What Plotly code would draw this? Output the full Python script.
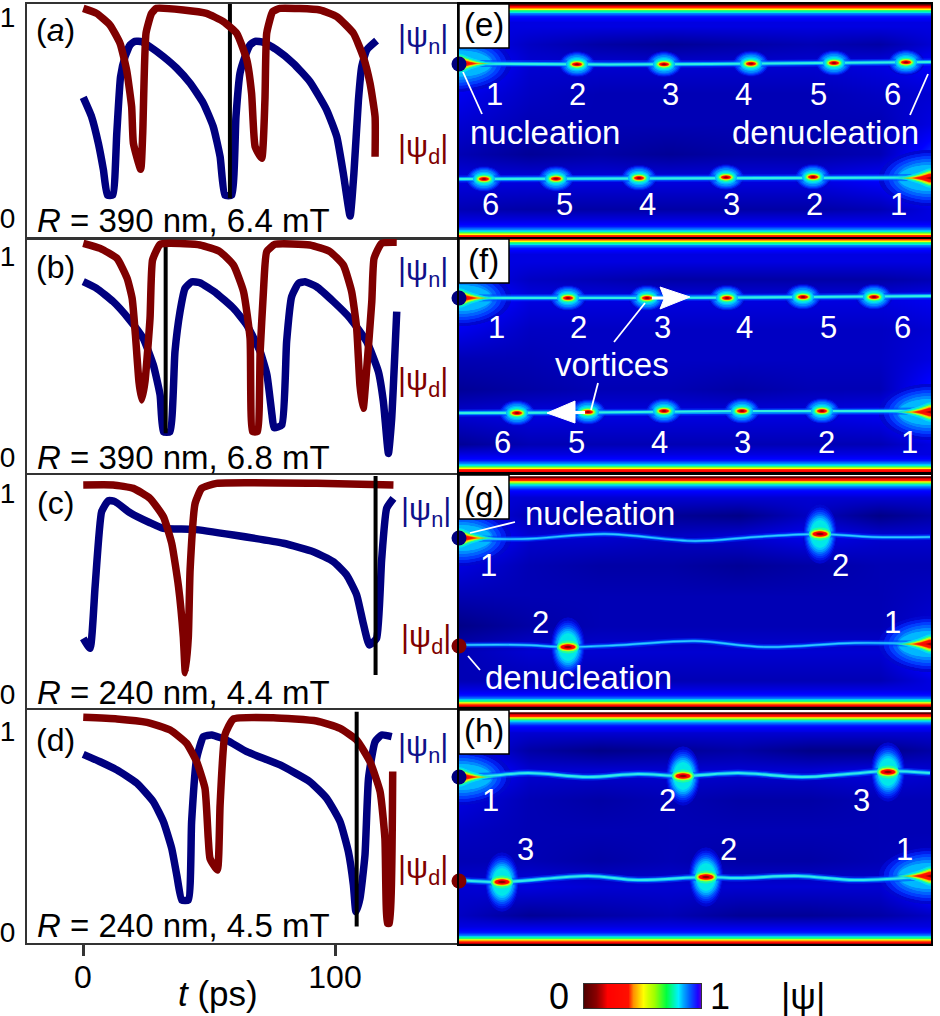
import math
import plotly.graph_objects as go

W, H = 940, 1016
FONT = "Liberation Sans"
NAVY = "#00007f"
MAROON = "#7f0000"

# ---------- left panels: time (ps) and order parameter ----------
a_n_t = [0.1,3.4,6.1,8.1,9.7,11.8,13.4,14.9,16.7,18.7,20.6,23.3,26.6,31.9,37.2,42.5,47.8,51.7,54.4,56.3,59.0,60.7,62.3,64.3,66.3,68.3,71.6,76.9,83.5,90.1,96.7,100.7,103.3,106,107.5,109.3,110.6,112.6,116.5]
a_n_v = [.60,.504,.371,.239,.114,.114,.421,.703,.803,.861,.879,.877,.852,.803,.745,.670,.570,.454,.305,.114,.114,.504,.720,.803,.861,.879,.874,.836,.769,.678,.537,.405,.222,.01,.222,.587,.753,.836,.882]
a_d_t = [0.1,5.4,10.7,14.7,17.3,19.3,20,22.9,23.7,25,27.2,29.2,39.8,49,55.7,61,65,66.9,68.3,70.9,72.2,72.9,75.3,78.2,94,100.7,107.3,111.2,113.9,115.9,115.9]
a_d_v = [1.043,1.018,.96,.869,.736,.554,.371,.242,.421,.919,1.018,1.043,1.035,1.018,.977,.919,.786,.620,.355,.297,.587,.919,1.027,1.043,1.035,1.002,.919,.803,.670,.504,.305]
a_mark_t = [58.3,58.3]
a_mark_v = [1.065,.098]

b_n_t = [0.1,5.4,12,18,23.9,27.9,30.6,31.9,34.5,36.5,38.5,40.5,43.2,46.4,53,59.7,65,70.3,73,75,75.8,78.9,80.8,82.8,85.5,88.1,92.7,99.4,106,112.6,117.2,119.2,121.2,122.5,124.5]
b_n_v = [.872,.839,.773,.69,.59,.458,.308,.126,.126,.524,.723,.839,.872,.867,.814,.74,.657,.524,.408,.209,.146,.159,.574,.798,.864,.872,.847,.773,.69,.574,.425,.275,.018,.192,.723]
b_d_t = [0.1,6.8,13.5,17.5,19.5,20.8,22.2,23.3,24.6,26.6,27.6,30.6,34.5,46.4,54.3,59.7,63.7,66.3,67.3,69.2,70.3,71.6,72.9,76.2,90,98,103.3,106.6,108.6,109.9,111.2,112.6,114.6,115.5,118.5,124.5]
b_d_v = [1.063,1.038,.988,.889,.789,.607,.375,.284,.375,.69,.98,1.058,1.063,1.055,1.022,.955,.823,.59,.126,.126,.524,.823,1.022,1.058,1.055,1.022,.955,.823,.64,.358,.242,.441,.773,.988,1.063,1.068]
b_mark_t = [32.8,32.8]
b_mark_v = [1.08,.118]

c_n_t = [0.1,2.8,4.8,7.4,10.1,12.7,18.7,26.6,31.9,43.8,59.7,79.5,91.4,99.4,104.6,108.6,111.2,113.6,116.5,118.5,120.5,123.2]
c_n_v = [.277,.227,.534,.907,.962,.957,.902,.852,.824,.819,.791,.75,.708,.658,.592,.493,.352,.244,.277,.667,.924,.973]
c_d_t = [0.1,12,20,26.6,31.9,35.2,37.9,39.8,40.6,41.8,42.5,44.5,47.1,53,92.7,123.2]
c_d_v = [1.04,1.04,1.023,.973,.882,.75,.534,.285,.106,.285,.617,.949,1.023,1.048,1.048,1.04]
c_mark_t = [116.1,116.1]
c_mark_v = [1.085,.095]

d_n_t = [0.1,6.8,13.5,21.4,27.9,31.9,35.2,37.2,39.2,41.8,43.1,45.1,47.8,51.1,57,65,78.2,90,96.7,102,105.3,107.3,108.3,109.9,111.9,113.3,115.9,118.5,122.5]
d_n_v = [.884,.847,.806,.74,.648,.549,.416,.284,.159,.159,.549,.864,.972,.98,.955,.897,.831,.748,.665,.549,.4,.234,.101,.167,.383,.765,.947,.98,.972]
d_d_t = [0.1,13.5,25.4,34.6,41.1,45.1,48.4,49.7,50.4,53.3,54.4,56.3,59.7,75.5,92.7,102,108.6,113.9,117.9,119.8,120.8,121.6,122.9]
d_d_v = [1.068,1.06,1.043,1.005,.939,.847,.715,.466,.366,.308,.632,.98,1.06,1.066,1.05,1.013,.955,.847,.698,.466,.043,.043,.798]
d_mark_t = [108.6,108.6]
d_mark_v = [1.096,.027]

left_titles = ["R = 390 nm, 6.4 mT", "R = 390 nm, 6.8 mT", "R = 240 nm, 4.4 mT", "R = 240 nm, 4.5 mT"]
left_tags = ["(<i>a</i>)", "(b)", "(c)", "(d)"]
time_ticks = [0, 100]
order_ticks = [0, 1]

# ---------- right panels: positions along the strip ----------
e_up_x = [0,150,250,472]; e_up_y = [59.5,60.5,60,58]
e_lo_x = [0,150,300,472]; e_lo_y = [175,174.5,173.5,173.5]
e_vu_x = [118,205,292,375,447]; e_vu_y = [60.3,60.3,59.7,59,58.3]
e_vl_x = [25,97,180,267,354]; e_vl_y = [175,174.7,174,173.3,173]

f_up_x = [0,200,350,472]; f_up_y = [59,59,58,57]
f_lo_x = [0,130,280,472]; f_lo_y = [174,173.5,172,172]
f_vu_x = [109,188,268,344,415]; f_vu_y = [59,59,59,58,58]
f_vl_x = [58,129,205,283,363]; f_vl_y = [174,173,172,172,172]

g_up_x = [1,63,146,236,296,361,413,471]; g_up_y = [63,64,59,66,62,59,62,62]
g_lo_x = [1,63,109,163,236,306,396,471]; g_lo_y = [170,170,172,170,166,172,168,169]
g_vu_x = [361]; g_vu_y = [59]
g_vl_x = [109]; g_vl_y = [172]

h_up_x = [1,29,69,129,179,224,279,343,389,429,471]; h_up_y = [67,66,63,67,64,66,63,67,64,61,63]
h_lo_x = [1,43,129,179,246,279,339,396,471]; h_lo_y = [170,172,166,170,167,168,166,170,166]
h_vu_x = [224,429]; h_vu_y = [66,62]
h_vl_x = [43,247]; h_vl_y = [172,167]

# background |psi| read on a coarse grid
grid_x = [0,70,140,210,280,350,420,472]
grid_y = [22,40,60,90,120,150,176,205]
e_grid = [
 [.92,.92,.92,.92,.92,.92,.92,.92],
 [.90,.94,.96,.97,.96,.95,.96,.93],
 [.87,.93,.93,.93,.93,.93,.92,.90],
 [.91,.94,.95,.95,.95,.95,.94,.93],
 [.93,.95,.95,.95,.95,.95,.95,.92],
 [.95,.97,.96,.97,.96,.96,.95,.88],
 [.92,.92,.92,.92,.92,.92,.90,.85],
 [.95,.96,.96,.96,.96,.96,.95,.92]]
f_grid = [
 [.92,.92,.92,.92,.92,.92,.92,.92],
 [.90,.94,.95,.96,.96,.96,.96,.95],
 [.87,.92,.92,.92,.92,.92,.92,.91],
 [.91,.94,.94,.94,.94,.94,.94,.93],
 [.95,.95,.94,.94,.94,.94,.94,.92],
 [.97,.96,.95,.95,.96,.95,.95,.89],
 [.93,.92,.92,.92,.92,.92,.91,.85],
 [.97,.95,.95,.95,.95,.95,.95,.92]]
g_grid = [
 [.92,.93,.93,.93,.93,.93,.93,.93],
 [.90,.95,.96,.97,.98,.94,.98,.96],
 [.87,.93,.93,.94,.93,.91,.93,.93],
 [.92,.95,.96,.96,.97,.96,.95,.95],
 [.95,.95,.95,.95,.95,.95,.95,.94],
 [.98,.96,.95,.95,.95,.95,.95,.93],
 [.95,.93,.93,.93,.93,.93,.93,.87],
 [.95,.95,.95,.95,.95,.95,.95,.92]]
h_grid = [
 [.92,.93,.93,.93,.93,.93,.93,.93],
 [.90,.96,.98,.97,.96,.98,.98,.96],
 [.87,.93,.93,.93,.93,.93,.92,.93],
 [.92,.95,.96,.95,.96,.96,.95,.95],
 [.94,.95,.95,.95,.95,.95,.95,.95],
 [.95,.95,.96,.95,.96,.96,.95,.94],
 [.93,.92,.93,.93,.93,.93,.93,.87],
 [.94,.97,.96,.95,.97,.97,.96,.94]]
band_depth = [0,1.5,3,4.5,6,7.5,9,12,18]
band_level = [.05,.22,.37,.5,.66,.76,.84,.89,.92]

bar_levels = [0,.05,.1,.15,.2,.25,.3,.35,.38,.42,.46,.5,.55,.6,.65,.7,.75,.8,.85,.9,.95,1]

# ---------- styles ----------
field_scale = [[0,"#300000"],[.12,"#900000"],[.22,"#ff0000"],[.36,"#ff2000"],[.43,"#ff9000"],[.5,"#ffff00"],
               [.62,"#60ff40"],[.7,"#00ff90"],[.78,"#00e0ff"],[.85,"#0070ff"],[.9,"#0000ff"],[1,"#00006a"]]
bar_scale = [[0,"#500000"],[.1,"#8b0000"],[.2,"#ff0000"],[.38,"#ff1000"],[.42,"#ff9000"],[.5,"#ffff00"],
             [.6,"#a0ff00"],[.7,"#00ff40"],[.8,"#00f0ff"],[.9,"#0060ff"],[.97,"#2000ff"],[1,"#6000d0"]]

left_box = [(4,238,218),(239,473,457),(475,708,694),(710,943,932)]
right_box = [(4,238),(239,472),(475,707),(710,944)]
PX_UNIT = 201.0
XL, XR = 27, 458
RL, RR = 459, 931
T0PX, TPS = 83.0, 2.52

def dom_x(a, b): return [a / W, b / W]
def dom_y(t, b): return [1 - b / H, 1 - t / H]

fig = go.Figure()
layout = {}
annots = []
shapes = []

def note(px, py, text, size=30, color="black"):
    annots.append(dict(x=px / W, y=1 - py / H, xref="paper", yref="paper", text=text, showarrow=False,
                       xanchor="center", yanchor="middle", font=dict(family=FONT, size=size, color=color)))

left_series = [(a_n_t,a_n_v,a_d_t,a_d_v,a_mark_t,a_mark_v),(b_n_t,b_n_v,b_d_t,b_d_v,b_mark_t,b_mark_v),
               (c_n_t,c_n_v,c_d_t,c_d_v,c_mark_t,c_mark_v),(d_n_t,d_n_v,d_d_t,d_d_v,d_mark_t,d_mark_v)]
mark_first = [True, True, False, False]
for i, (nt, nv, dt, dv, mt, mv) in enumerate(left_series):
    ax = i + 1
    t, b, zero = left_box[i]
    xa = dict(domain=dom_x(XL, XR), range=[(XL - T0PX) / TPS, (XR - T0PX) / TPS], showgrid=False, zeroline=False,
              showline=True, mirror=True, linecolor="#333", linewidth=2, anchor=f"y{ax}", fixedrange=True, automargin=False)
    if i == 3:
        xa.update(tickvals=time_ticks, ticks="outside", ticklen=11, tickwidth=3, tickcolor="#333", ticklabelstandoff=-6,
                  tickfont=dict(family=FONT, size=32, color="black"))
    else:
        xa.update(showticklabels=False, ticks="")
    ya = dict(domain=dom_y(t, b), range=[(zero - b) / PX_UNIT, (zero - t) / PX_UNIT], showgrid=False, zeroline=False,
              showline=True, mirror=True, linecolor="#333", linewidth=2, anchor=f"x{ax}", fixedrange=True, automargin=False,
              tickvals=order_ticks, ticks="outside", ticklen=4, tickcolor="rgba(0,0,0,0)",
              tickfont=dict(family=FONT, size=28, color="black"))
    layout[f"xaxis{ax}"] = xa
    layout[f"yaxis{ax}"] = ya
    xr, yr = f"x{ax}", f"y{ax}"
    curve = dict(width=7.5, shape="spline", smoothing=0.45)
    blue = go.Scatter(x=nt, y=nv, mode="lines", line=dict(color="#00007f", **curve), xaxis=xr, yaxis=yr, hoverinfo="skip")
    red = go.Scatter(x=dt, y=dv, mode="lines", line=dict(color="#7f0000", **curve), xaxis=xr, yaxis=yr, hoverinfo="skip")
    blk = go.Scatter(x=mt, y=mv, mode="lines", line=dict(color="black", width=4), xaxis=xr, yaxis=yr, hoverinfo="skip")
    fig.add_traces([blue, blk, red] if mark_first[i] else [blue, red, blk])

note(218, 993, "<i>t</i> (ps)", size=35)
for txt, y in zip(left_titles, [220, 457, 692, 925]):
    note(183, y, "<i>R</i>" + txt[1:], size=33)
for txt, y in zip(left_tags, [30, 267, 503, 740]):
    note(55, y, txt, size=32)
for x, y in [(423, 39), (423, 272), (426, 512), (423, 748)]:
    note(x, y, "|\u03c8<sub>n</sub>|", size=31, color="#10108a")
for x, y in [(423, 149), (423, 382), (426, 639), (423, 870)]:
    note(x, y, "|\u03c8<sub>d</sub>|", size=31, color=MAROON)

# ---- glow drawing helpers: a chain of opaque discs forms a smooth ellipse or wedge ----
def ellipse(cx, cy, rx, ry, color, xr, yr, pointy=False, sign=0):
    xs, ys, ss = [], [], []
    for c_x, c_y in zip(cx, cy):
        if rx >= ry:
            n = int(rx)
            steps = range(0, n + 1) if sign else range(-n, n + 1)
            for d in steps:
                f = abs(d) / rx
                r = ry * ((1 - f) ** 1.8 if pointy else math.sqrt(max(0, 1 - f * f)))
                xs.append(c_x + (sign if sign else 1) * d); ys.append(c_y); ss.append(max(0.6, 2 * r))
        else:
            n = int(ry)
            for d in range(-n, n + 1):
                f = abs(d) / ry
                r = rx * math.sqrt(max(0, 1 - f * f))
                xs.append(c_x); ys.append(c_y + d); ss.append(max(0.6, 2 * r))
    fig.add_trace(go.Scatter(x=xs, y=ys, mode="markers", marker=dict(size=ss, color=color, line=dict(width=0)),
                             xaxis=xr, yaxis=yr, hoverinfo="skip"))

small_halo = [(13,13,"#0008d0"),(12,12,"#0020ee"),(11,11,"#0040ff"),(10,10,"#0064ff"),(9,9,"#008cff")]
small_core = [(8.2,7.2,"#00b8ff"),(7.6,6,"#00e0f0"),(7.2,4.4,"#20ffa0"),(6.2,3.2,"#b0ff20"),(5.2,2.4,"#ffd000"),
              (4.8,2,"#ff6000"),(4.4,1.7,"#ff0000"),(2.5,1,"#800000")]
big_halo = [(17,24,"#0008d0"),(16,21,"#0018e8"),(15,19,"#0030f8"),(14,17,"#0050ff"),(13,15,"#0078ff"),(12,13.5,"#00a0ff")]
big_core = [(10.5,12,"#00c8ff"),(9.5,10,"#00e8e8"),(9,6.5,"#20ffa0"),(8.5,4.4,"#b0ff20"),(7.5,3.3,"#ffd000"),(7.2,2.8,"#ff6000"),
            (7,2.4,"#ff0000"),(4,1.2,"#800000")]
blob_soft = [(44,28,"#0008d0"),(40,25,"#0020ee"),(36,22,"#0040ff"),(33,19,"#0064ff"),(30,16,"#008cff"),(30,13,"#00b8ff")]
blob_sharp = [(42,10,"#00e0f0"),(36,8.5,"#20ffa0"),(32,7,"#b0ff20"),(28,5.6,"#ffd000"),(26,4.8,"#ff6000"),(24,4,"#ff1000"),(10,1.6,"#a00000")]

right_series = [
    (e_grid, e_up_x, e_up_y, e_lo_x, e_lo_y, e_vu_x, e_vu_y, e_vl_x, e_vl_y, "(e)", 0, False),
    (f_grid, f_up_x, f_up_y, f_lo_x, f_lo_y, f_vu_x, f_vu_y, f_vl_x, f_vl_y, "(f)", -3, False),
    (g_grid, g_up_x, g_up_y, g_lo_x, g_lo_y, g_vu_x, g_vu_y, g_vl_x, g_vl_y, "(g)", 2, True),
    (h_grid, h_up_x, h_up_y, h_lo_x, h_lo_y, h_vu_x, h_vu_y, h_vl_x, h_vl_y, "(h)", 3, True),
]
bright = [[(7, "#0040ff", .55), (4, "#00a0ff", .9), (2.2, "#30f0e0", 1)]] * 2 + \
         [[(6, "#0030ff", .5), (3, "#0090ff", .85), (1.4, "#30c8ff", 1)],
          [(7, "#0040ff", .55), (4, "#00a0ff", .9), (2.2, "#30e8e8", 1)]]
tag_y = [25, 260, 498, 730]
dot_panel = [0, 0, 1, 1, 2, 2, 3, 3]
dot_x = [0, 473, 0, 473, 0, 0, 0, 0]
dot_y = [60, 60, 59, 59, 63, 171, 67, 171]
dot_col = [NAVY, MAROON, NAVY, MAROON, NAVY, MAROON, NAVY, MAROON]
blob_up_y = [59.5, 59, 63, 67]
blob_lo_y = [174, 173, 169, 166]

for i, (grid, ux, uy, lx, ly, vux, vuy, vlx, vly, tag, shift, big) in enumerate(right_series):
    ax = i + 5
    t, b = right_box[i]
    hgt = b - t
    xr, yr = f"x{ax}", f"y{ax}"
    common = dict(showgrid=False, zeroline=False, showticklabels=False, ticks="", showline=True, mirror=True,
                  linecolor="black", linewidth=2, fixedrange=True, automargin=False)
    layout[f"xaxis{ax}"] = dict(domain=dom_x(RL, RR), range=[0, RR - RL], anchor=yr, **common)
    layout[f"yaxis{ax}"] = dict(domain=dom_y(t, b), range=[hgt, 0], anchor=xr, **common)
    ys, zs = [], []
    for d, lv in zip(band_depth, band_level):
        ys.append(d + shift); zs.append([lv] * len(grid_x))
    for y, row in zip(grid_y, grid):
        if y > ys[-1]:
            ys.append(y); zs.append(row)
    for d, lv in zip(reversed(band_depth), reversed(band_level)):
        ys.append(hgt - d); zs.append([lv] * len(grid_x))
    fig.add_trace(go.Heatmap(x=grid_x, y=ys, z=zs, colorscale=field_scale, zmin=0, zmax=1, showscale=False,
                             zsmooth="best", xaxis=xr, yaxis=yr, hoverinfo="skip"))
    halo, core = (big_halo, big_core) if big else (small_halo, small_core)
    vx, vy = vux + vlx, vuy + vly
    for rx, ry, c in halo:
        ellipse(vx, vy, rx, ry, c, xr, yr)
    for rx, ry, c in blob_soft:
        ellipse([0], [blob_up_y[i]], rx, ry, c, xr, yr, sign=1)
        ellipse([RR - RL], [blob_lo_y[i]], rx, ry, c, xr, yr, sign=-1)
    shape = "spline" if big else "linear"
    for lx_, ly_ in [(ux, uy), (lx, ly)]:
        for wd, c, o in bright[i]:
            fig.add_trace(go.Scatter(x=lx_, y=ly_, mode="lines", line=dict(color=c, width=wd, shape=shape), opacity=o,
                                     xaxis=xr, yaxis=yr, hoverinfo="skip"))
    for rx, ry, c in core:
        ellipse(vx, vy, rx, ry, c, xr, yr)
    for rx, ry, c in blob_sharp:
        ellipse([0], [blob_up_y[i]], rx, ry, c, xr, yr, pointy=True, sign=1)
        ellipse([RR - RL], [blob_lo_y[i]], rx, ry, c, xr, yr, pointy=True, sign=-1)
    shapes.append(dict(type="rect", xref=xr, yref=yr, x0=0, x1=50, y0=0, y1=44, fillcolor="white",
                       line=dict(color="black", width=1.5), layer="above"))
    note(484, tag_y[i], tag, size=33)

# leader lines and arrows (panel coordinates)
leader_x = {5: [[4, 23], [469, 451]], 6: [[186, 155], [139, 132]], 7: [[11, 56], [9, 21]], 8: []}
leader_y = {5: [[68, 110], [70, 111]], 6: [[64, 103], [144, 171]], 7: [[58, 47], [181, 195]], 8: []}
for ax in leader_x:
    for lx_, ly_ in zip(leader_x[ax], leader_y[ax]):
        fig.add_trace(go.Scatter(x=lx_, y=ly_, mode="lines", line=dict(color="white", width=1.8),
                                 xaxis=f"x{ax}", yaxis=f"y{ax}", hoverinfo="skip"))

arrow_r_x = [193, 205, 201, 231, 201, 205, 193]
arrow_r_y = [58, 58, 48, 58, 70, 60, 60]
arrow_l_x = [126, 116, 116, 88, 116, 116, 126]
arrow_l_y = [172.5, 172.5, 162, 174, 184, 174.5, 174.5]
for ax_, ay_ in [(arrow_r_x, arrow_r_y), (arrow_l_x, arrow_l_y)]:
    fig.add_trace(go.Scatter(x=ax_, y=ay_, mode="lines", fill="toself", fillcolor="white", line=dict(color="white", width=1),
                             xaxis="x6", yaxis="y6", hoverinfo="skip"))

for p, x, y, c in zip(dot_panel, dot_x, dot_y, dot_col):
    fig.add_trace(go.Scatter(x=[x], y=[y], mode="markers", marker=dict(size=15, color=c, line=dict(width=0)),
                             cliponaxis=False, xaxis=f"x{p+5}", yaxis=f"y{p+5}", hoverinfo="skip"))

WT = "white"
for xs, y, ts in [([494, 577, 670, 743, 818, 892], 94, "123456"),
                  ([490, 564, 647, 731, 814, 898], 205, "654321"),
                  ([496, 578, 662, 744, 828, 902], 327, "123456"),
                  ([502, 576, 659, 742, 826, 909], 442, "654321"),
                  ([488, 840], 565, "12"), ([540, 892], 622, "21"),
                  ([491, 667, 861], 800, "123"), ([525, 728, 904], 849, "321")]:
    for x, t in zip(xs, ts):
        note(x, y, t, size=31, color=WT)
for x, y, t in [(545, 132, "nucleation"), (825, 132, "denucleation"), (612, 364, "vortices"),
                (600, 513, "nucleation"), (578, 677, "denucleation")]:
    note(x, y, t, size=33, color=WT)

layout["xaxis9"] = dict(domain=dom_x(584, 701), range=[0, 1], anchor="y9", showgrid=False, zeroline=False, automargin=False,
                        showticklabels=False, ticks="", showline=True, mirror=True, linecolor="#333", linewidth=1, fixedrange=True)
layout["yaxis9"] = dict(domain=dom_y(984, 1008), range=[0, 1], anchor="x9", showgrid=False, zeroline=False, automargin=False,
                        showticklabels=False, ticks="", showline=True, mirror=True, linecolor="#333", linewidth=1, fixedrange=True)
fig.add_trace(go.Heatmap(x=bar_levels, y=[0, 1], z=[bar_levels, bar_levels], colorscale=bar_scale, zmin=0, zmax=1,
                         showscale=False, zsmooth="best", xaxis="x9", yaxis="y9", hoverinfo="skip"))
note(559, 996, "0", size=36)
note(720, 996, "1", size=36)
note(803, 996, "|\u03c8|", size=36)

fig.update_layout(template="none", width=W, height=H, margin=dict(l=0, r=0, t=0, b=0, pad=0), paper_bgcolor="white",
                  plot_bgcolor="white", showlegend=False, annotations=annots, shapes=shapes, font=dict(family=FONT), **layout)
fig.write_html("out.html", config={"displayModeBar": False},
               post_script="document.body.style.margin='0';")
